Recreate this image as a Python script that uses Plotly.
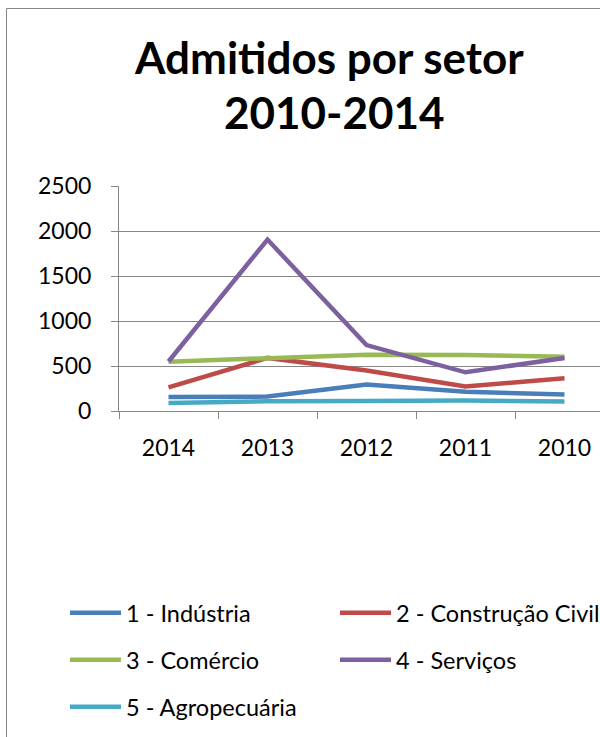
import plotly.graph_objects as go

# ---- data ----
years = ["2014", "2013", "2012", "2011", "2010"]
industria = [155, 160, 295, 215, 182]
construcao = [262, 590, 450, 272, 365]
comercio = [548, 585, 625, 622, 604]
servicos = [550, 1905, 732, 430, 590]
agropecuaria = [88, 108, 112, 118, 105]
names = ["1 - Indústria", "2 - Construção Civil", "3 - Comércio", "4 - Serviços", "5 - Agropecuária"]
colors = ["#4A7EBB", "#BE4B48", "#98B954", "#7D60A0", "#46AAC5"]
y_ticks = [0, 500, 1000, 1500, 2000, 2500]

# ---- layout geometry (pixels) ----
W, H = 600, 737
L, R, T, B = 119, 0, 186, 326
PW, PH = W - L - R, H - T - B
CAT_W = 99.0

def px_x(x):
    return (x - L) / PW

def px_y(y):
    return (H - B - y) / PH

FONT = "Lato"
GRAY = "#868686"
ITEMW = 51

fig = go.Figure()
series = [industria, construcao, comercio, servicos, agropecuaria]
text_pos = [(126, 613), (396, 613), (126, 660), (396, 660), (126, 707)]
legends = {}
for i, (name, vals, col) in enumerate(zip(names, series, colors)):
    lid = "legend" if i == 0 else f"legend{i + 1}"
    fig.add_trace(go.Scatter(
        x=years, y=vals, name=name, mode="lines",
        line=dict(color=col, width=4.5),
        legend=lid, hoverinfo="skip",
    ))
    tx, ty = text_pos[i]
    legends[lid] = dict(
        x=px_x(tx - ITEMW - 10), y=px_y(ty), xanchor="left", yanchor="middle",
        orientation="v", bgcolor="rgba(0,0,0,0)", borderwidth=0,
        itemwidth=ITEMW,
        font=dict(family=FONT, size=23.5, color="black"),
    )

fig.update_layout(**legends)

fig.update_layout(
    width=W, height=H,
    margin=dict(l=L, r=R, t=T, b=B, pad=0, autoexpand=False),
    paper_bgcolor="white", plot_bgcolor="white",
    showlegend=True,
    font=dict(family=FONT, size=22, color="black"),
    xaxis=dict(
        type="category", range=[-0.5, -0.5 + PW / CAT_W],
        showgrid=False, zeroline=False,
        showline=True, linecolor=GRAY, linewidth=1,
        ticks="outside", tickson="boundaries", ticklen=7, tickcolor=GRAY, tickwidth=1,
        tickfont=dict(family=FONT, size=23, color="black"),
        ticklabelstandoff=16,
        fixedrange=True,
    ),
    yaxis=dict(
        range=[0, 2500], tickvals=y_ticks,
        showgrid=True, gridcolor=GRAY, gridwidth=1,
        zeroline=False,
        showline=True, linecolor=GRAY, linewidth=1,
        ticks="outside", ticklen=7, tickcolor=GRAY, tickwidth=1,
        tickfont=dict(family=FONT, size=23, color="black"),
        ticklabelstandoff=15,
        fixedrange=True,
    ),
    shapes=[dict(
        type="rect", xref="paper", yref="paper",
        x0=px_x(6.5), x1=px_x(900), y0=px_y(1200), y1=px_y(8.5),
        line=dict(color=GRAY, width=1), fillcolor="rgba(0,0,0,0)", layer="below",
    )],
    annotations=[
        dict(text="<b>Admitidos por setor</b>", xref="paper", yref="paper",
             x=px_x(329), y=px_y(57), xanchor="center", yanchor="middle",
             showarrow=False, font=dict(family=FONT, size=44, color="black")),
        dict(text="<b>2010-2014</b>", xref="paper", yref="paper",
             x=px_x(334), y=px_y(112), xanchor="center", yanchor="middle",
             showarrow=False, font=dict(family=FONT, size=44, color="black")),
    ],
)

fig.write_html("out.html", config={"displayModeBar": False})
